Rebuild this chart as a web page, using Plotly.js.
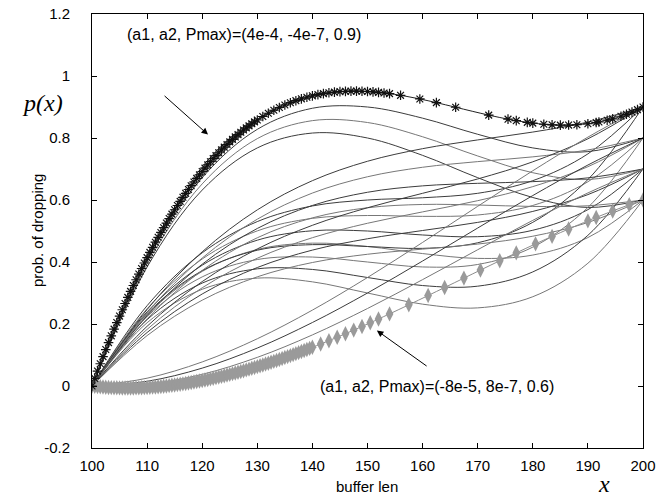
<!DOCTYPE html>
<html><head><meta charset="utf-8">
<script src="https://cdn.plot.ly/plotly-3.0.1.min.js"></script>
<style>html,body{margin:0;padding:0;background:#fff}#chart{width:671px;height:498px}</style>
</head><body><div id="chart"></div>
<script>
// buffer length samples for the thin curves
const bufferLen = [100,110,120,130,140,150,160,170,180,190,200];

// group A (steep start)
const curveA_p08 = [0,0.404,0.672,0.828,0.896,0.9,0.864,0.812,0.768,0.756,0.8];
const curveA_p07 = [0,0.394,0.652,0.798,0.856,0.85,0.804,0.742,0.688,0.666,0.7];
const curveA_p06 = [0,0.384,0.632,0.768,0.816,0.8,0.744,0.672,0.608,0.576,0.6];
// group B
const curveB_p06 = [0,0.2292,0.3696,0.4404,0.4608,0.45,0.4272,0.4116,0.4224,0.4788,0.6];
const curveB_p07 = [0,0.2392,0.3896,0.4704,0.5008,0.5,0.4872,0.4816,0.5024,0.5688,0.7];
const curveB_p08 = [0,0.2492,0.4096,0.5004,0.5408,0.55,0.5472,0.5516,0.5824,0.6588,0.8];
const curveB_p09 = [0,0.2592,0.4296,0.5304,0.5808,0.6,0.6072,0.6216,0.6624,0.7488,0.9];
// group C1 (dip then rise)
const curveC1_p06 = [0,0.204,0.312,0.348,0.336,0.3,0.264,0.252,0.288,0.396,0.6];
const curveC1_p07 = [0,0.214,0.332,0.378,0.376,0.35,0.324,0.322,0.368,0.486,0.7];
const curveC1_p08 = [0,0.224,0.352,0.408,0.416,0.4,0.384,0.392,0.448,0.576,0.8];
const curveC1_p09 = [0,0.234,0.372,0.438,0.456,0.45,0.444,0.462,0.528,0.666,0.9];
// group C2
const curveC2_p06 = [0,0.2166,0.3728,0.4782,0.5424,0.575,0.5856,0.5838,0.5792,0.5814,0.6];
const curveC2_p07 = [0,0.2266,0.3928,0.5082,0.5824,0.625,0.6456,0.6538,0.6592,0.6714,0.7];
const curveC2_p08 = [0,0.2366,0.4128,0.5382,0.6224,0.675,0.7056,0.7238,0.7392,0.7614,0.8];
const curveC2_p09 = [0,0.2466,0.4328,0.5682,0.6624,0.725,0.7656,0.7938,0.8192,0.8514,0.9];
// group C3
const curveC3_p06 = [0,0.1626,0.2768,0.3522,0.3984,0.425,0.4416,0.4578,0.4832,0.5274,0.6];
const curveC3_p07 = [0,0.1726,0.2968,0.3822,0.4384,0.475,0.5016,0.5278,0.5632,0.6174,0.7];
const curveC3_p08 = [0,0.1826,0.3168,0.4122,0.4784,0.525,0.5616,0.5978,0.6432,0.7074,0.8];
const curveC3_p09 = [0,0.1926,0.3368,0.4422,0.5184,0.575,0.6216,0.6678,0.7232,0.7974,0.9];
// group D (flat start)
const curveD_p07 = [0,0.0052,0.0376,0.0924,0.1648,0.25,0.3432,0.4396,0.5344,0.6228,0.7];
const curveD_p08 = [0,0.0152,0.0576,0.1224,0.2048,0.3,0.4032,0.5096,0.6144,0.7128,0.8];
const curveD_p09 = [0,0.0252,0.0776,0.1524,0.2448,0.35,0.4632,0.5796,0.6944,0.8028,0.9];

// highlighted curve (a1,a2,Pmax)=(4e-4,-4e-7,0.9), '*' markers
const topX = [100,100.5,101,101.5,102,102.5,103,103.5,104,104.5,105,105.5,106,106.5,107,107.5,108,108.5,109,109.5,
  110,110.5,111,111.5,112,112.5,113,113.5,114,114.5,115,115.5,116,116.5,117,117.5,118,118.5,119,119.5,
  120,120.5,121,121.5,122,122.5,123,123.5,124,124.5,125,125.5,126,126.5,127,127.5,128,128.5,129,129.5,
  130,131,132,133,134,135,136,137,138,139,140,141,142,143,144,145,146,147,148,149,150,
  151,152,153,154,156,159.5,162.5,166,172,175.5,177,179,180,182,183.5,185,186.5,188,190,191.5,192,193.5,194.5,196,197,198,199,200];
const topY = [0,0.0243,0.0482,0.0717,0.0948,0.1176,0.1399,0.1619,0.1835,0.2047,0.2255,0.246,0.2661,0.2858,0.3052,0.3242,0.3428,0.3612,0.3791,0.3967,
  0.414,0.4309,0.4475,0.4638,0.4797,0.4953,0.5106,0.5255,0.5402,0.5545,0.5685,0.5822,0.5956,0.6087,0.6215,0.6339,0.6461,0.658,0.6696,0.681,
  0.692,0.7028,0.7132,0.7235,0.7334,0.7431,0.7525,0.7616,0.7705,0.7791,0.7875,0.7956,0.8035,0.8111,0.8185,0.8257,0.8326,0.8393,0.8458,0.852,
  0.858,0.8694,0.8799,0.8895,0.8984,0.9065,0.9138,0.9204,0.9263,0.9315,0.936,0.9399,0.9432,0.9458,0.9479,0.9495,0.9505,0.9511,0.9512,0.9508,0.95,
  0.9488,0.9472,0.9453,0.9431,0.9377,0.9259,0.9141,0.8992,0.8738,0.8608,0.8559,0.8504,0.848,0.8443,0.8425,0.8415,0.8417,0.8427,0.846,0.8499,0.8516,0.8574,0.8619,0.8701,0.8765,0.8836,0.8914,0.9];

// highlighted curve (a1,a2,Pmax)=(-8e-5,8e-7,0.6), diamond markers
const lowX = [100,100.5,101,101.5,102,102.5,103,103.5,104,104.5,105,105.5,106,106.5,107,107.5,108,108.5,109,109.5,
  110,110.5,111,111.5,112,112.5,113,113.5,114,114.5,115,115.5,116,116.5,117,117.5,118,118.5,119,119.5,
  120,120.5,121,121.5,122,122.5,123,123.5,124,124.5,125,125.5,126,126.5,127,127.5,128,128.5,129,129.5,
  130,130.5,131,131.5,132,132.5,133,133.5,134,134.5,135,135.5,136,136.5,137,137.5,138,138.5,139,139.5,140,
  141.5,143,144.5,146,147.5,149,150.5,152,154,157.5,161,164,167.5,170.5,174,177,180.5,183.5,186.5,190,191.5,194.5,197.5,200];
const lowY = [0,-0.001,-0.0018,-0.0026,-0.0034,-0.004,-0.0046,-0.0051,-0.0055,-0.0058,-0.0061,-0.0063,-0.0064,-0.0065,-0.0064,-0.0063,-0.0062,-0.0059,-0.0056,-0.0053,
  -0.0048,-0.0043,-0.0037,-0.0031,-0.0023,-0.0016,-0.0007,0.0002,0.0012,0.0022,0.0033,0.0045,0.0057,0.007,0.0083,0.0097,0.0112,0.0127,0.0143,0.0159,
  0.0176,0.0194,0.0212,0.023,0.0249,0.0269,0.0289,0.031,0.0331,0.0353,0.0375,0.0398,0.0421,0.0445,0.0469,0.0494,0.0519,0.0544,0.0571,0.0597,
  0.0624,0.0651,0.0679,0.0708,0.0736,0.0765,0.0795,0.0825,0.0855,0.0886,0.0917,0.0949,0.098,0.1013,0.1045,0.1078,0.1112,0.1145,0.1179,0.1213,0.1248,
  0.1354,0.1462,0.1573,0.1687,0.1803,0.192,0.204,0.2162,0.2326,0.2619,0.2918,0.3177,0.348,0.3739,0.404,0.4294,0.4585,0.4828,0.5064,0.5328,0.5437,0.5647,0.5845,0.6];

const xTicks = [100,110,120,130,140,150,160,170,180,190,200];
const yTickVals = [-0.2,0,0.2,0.4,0.6,0.8,1,1.2];
const yTickText = ['-0.2','0','0.2','0.4','0.6','0.8','1','1.2'];

const thin = [curveA_p08,curveA_p07,curveA_p06,
  curveB_p06,curveB_p07,curveB_p08,curveB_p09,
  curveC1_p06,curveC1_p07,curveC1_p08,curveC1_p09,
  curveC2_p06,curveC2_p07,curveC2_p08,curveC2_p09,
  curveC3_p06,curveC3_p07,curveC3_p08,curveC3_p09,
  curveD_p07,curveD_p08,curveD_p09];
const greys = ['#3c3c3c','#777777'];

const traces = thin.map((ys,i)=>({
  x: bufferLen, y: ys, type:'scatter', mode:'lines',
  line:{color: greys[i%2], width:1, shape:'spline'}, hoverinfo:'skip'
}));
traces.push({x: lowX, y: lowY, type:'scatter', mode:'lines+markers',
  line:{color:'#8c8c8c', width:1, shape:'spline'},
  marker:{symbol:'diamond-tall', size:11, color:'#9a9a9a', line:{width:0}}});
traces.push({x: topX, y: topY, type:'scatter', mode:'lines+markers',
  line:{color:'#222', width:1, shape:'spline'},
  marker:{symbol:'asterisk-open', size:8, color:'#111', line:{width:1.2, color:'#111'}}});

const F = 'Liberation Sans, Arial, sans-serif';
const SERIF = 'Liberation Serif, Times New Roman, serif';
const layout = {
  width:671, height:498,
  margin:{l:92, r:28, t:14, b:50, pad:0},
  paper_bgcolor:'#fff', plot_bgcolor:'#fff',
  showlegend:false,
  font:{family:F, size:15, color:'#000'},
  xaxis:{range:[100,200], tickvals:xTicks, ticks:'inside', ticklen:5, tickcolor:'#000',
    showline:true, linecolor:'#000', linewidth:1, mirror:'ticks', showgrid:false, zeroline:false,
    tickfont:{family:F, size:15}, ticklabelstandoff:4},
  yaxis:{range:[-0.2,1.2], tickvals:yTickVals, ticktext:yTickText, ticks:'inside', ticklen:5, tickcolor:'#000',
    showline:true, linecolor:'#000', linewidth:1, mirror:'ticks', showgrid:false, zeroline:false,
    tickfont:{family:F, size:15}, ticklabelstandoff:18},
  annotations:[
    {x:127.6, y:1.133, xref:'x', yref:'y', xanchor:'center', yanchor:'middle',
      text:'(a1, a2, Pmax)=(4e-4, -4e-7, 0.9)', showarrow:false, font:{family:F, size:16}},
    {x:162.6, y:0.0, xref:'x', yref:'y', xanchor:'center', yanchor:'middle',
      text:'(a1, a2, Pmax)=(-8e-5, 8e-7, 0.6)', showarrow:false, font:{family:F, size:16}},
    {x:121.05, y:0.811, ax:112.9, ay:0.94, xref:'x', yref:'y', axref:'x', ayref:'y', text:'',
      showarrow:true, arrowhead:2, arrowsize:1.3, arrowwidth:1, arrowcolor:'#000'},
    {x:151.7, y:0.179, ax:161.0, ay:0.061, xref:'x', yref:'y', axref:'x', ayref:'y', text:'',
      showarrow:true, arrowhead:2, arrowsize:1.3, arrowwidth:1, arrowcolor:'#000'},
    {x:0.499, y:-0.088, xref:'paper', yref:'paper', xanchor:'center', yanchor:'middle',
      text:'buffer len', showarrow:false, font:{family:F, size:15}},
    {x:-0.0998, y:0.5, xref:'paper', yref:'paper', xanchor:'center', yanchor:'middle',
      text:'prob. of dropping', showarrow:false, textangle:-90, font:{family:F, size:15}},
    {x:-0.0907, y:0.795, xref:'paper', yref:'paper', xanchor:'center', yanchor:'middle',
      text:'<i>p(x)</i>', showarrow:false, font:{family:SERIF, size:24}},
    {x:0.929, y:-0.082, xref:'paper', yref:'paper', xanchor:'center', yanchor:'middle',
      text:'<i>x</i>', showarrow:false, font:{family:SERIF, size:24}}
  ]
};
Plotly.newPlot('chart', traces, layout, {displayModeBar:false, staticPlot:true});
</script></body></html>
